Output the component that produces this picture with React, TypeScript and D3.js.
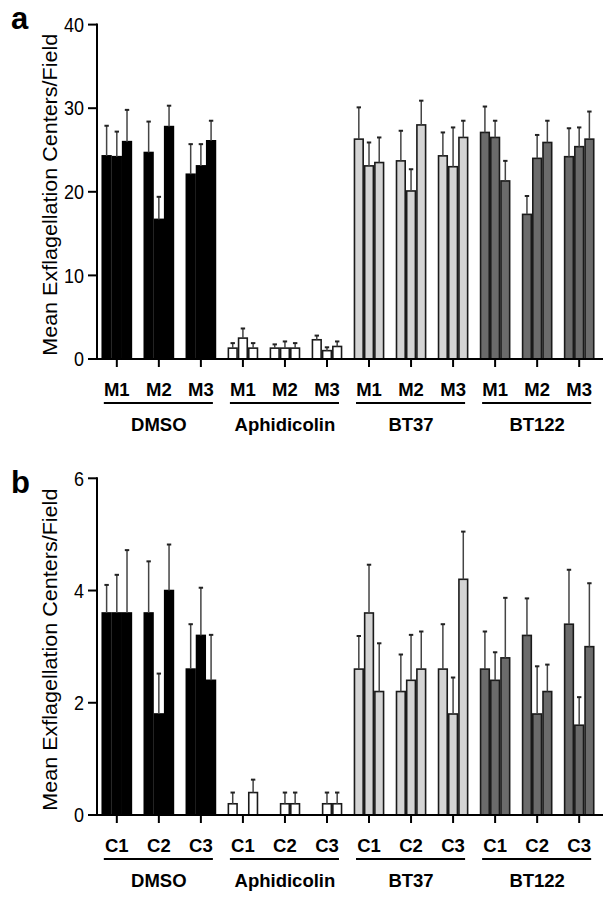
import React from "react";
import * as d3 from "d3";

const groups = ["DMSO", "Aphidicolin", "BT37", "BT122"];
const subA = ["M1", "M2", "M3"];
const subB = ["C1", "C2", "C3"];
const yTicksA = [0, 10, 20, 30, 40];
const yTicksB = [0, 2, 4, 6];
const fills = ["#000000", "#ffffff", "#d4d4d4", "#6b6b6b"];
const yTitle = "Mean Exflagellation Centers/Field";

// panel a: means per (group, sub) cluster, 3 replicates each
const meansA = [
  [24.3, 24.2, 26.0], [24.7, 16.7, 27.8], [22.1, 23.1, 26.1],
  [1.3, 2.5, 1.3], [1.3, 1.3, 1.3], [2.3, 1.0, 1.5],
  [26.3, 23.1, 23.5], [23.7, 20.1, 28.0], [24.3, 23.0, 26.5],
  [27.1, 26.5, 21.3], [17.3, 24.0, 25.9], [24.2, 25.4, 26.3],
];
const sdA = [
  [3.6, 3.0, 3.8], [3.7, 2.7, 2.5], [3.6, 2.6, 2.4],
  [0.6, 1.15, 0.6], [0.45, 0.8, 0.6], [0.5, 0.4, 0.6],
  [3.8, 2.8, 3.0], [3.6, 2.6, 2.9], [2.8, 4.7, 2.0],
  [3.1, 2.0, 2.4], [2.2, 2.8, 2.6], [3.4, 2.3, 3.3],
];
// panel b
const meansB = [
  [3.6, 3.6, 3.6], [3.6, 1.8, 4.0], [2.6, 3.2, 2.4],
  [0.2, 0, 0.4], [0, 0.2, 0.2], [0, 0.2, 0.2],
  [2.6, 3.6, 2.2], [2.2, 2.4, 2.6], [2.6, 1.8, 4.2],
  [2.6, 2.4, 2.8], [3.2, 1.8, 2.2], [3.4, 1.6, 3.0],
];
const sdB = [
  [0.5, 0.68, 1.12], [0.92, 0.72, 0.82], [0.8, 0.85, 0.81],
  [0.2, 0, 0.23], [0, 0.2, 0.2], [0, 0.2, 0.2],
  [0.59, 0.86, 0.86], [0.66, 0.81, 0.67], [0.8, 0.65, 0.85],
  [0.67, 0.5, 1.07], [0.66, 0.85, 0.48], [0.97, 0.5, 1.13],
];

const FONT = "'Liberation Sans', Arial, Helvetica, sans-serif";

type PanelProps = {
  letter: string;
  letterY: number;
  top: number;
  bottom: number;
  yMax: number;
  yTicks: number[];
  subs: string[];
  means: number[][];
  sds: number[][];
};

function Panel({ letter, letterY, top, bottom, yMax, yTicks, subs, means, sds }: PanelProps) {
  const axisX = 97;
  const axisRight = 603;
  const clusters = groups.flatMap((g) => subs.map((s) => g + "|" + s));
  const x = d3.scaleBand<string>().domain(clusters).range([95.8, 600.2]).paddingInner(0.272).paddingOuter(0.136);
  const inner = d3.scaleBand<string>().domain(["0", "1", "2"]).range([0, x.bandwidth()]).padding(0);
  const y = d3.scaleLinear().domain([0, yMax]).range([bottom, top]);
  const labelY = bottom + 31;
  const lineY = bottom + 44;
  const groupY = bottom + 66;

  return (
    <g fontFamily={FONT}>
      <text x={11} y={letterY} fontSize={31} fontWeight="bold">{letter}</text>
      <text
        transform={`translate(56.5,${(top + bottom) / 2 + 3}) rotate(-90)`}
        textAnchor="middle"
        fontSize={19.5}
        textLength={322}
        lengthAdjust="spacingAndGlyphs"
      >
        {yTitle}
      </text>
      {yTicks.map((t) => (
        <g key={t}>
          <line x1={88} x2={axisX} y1={y(t)} y2={y(t)} stroke="#000" strokeWidth={2} />
          <text
            transform={`translate(84,${y(t)}) scale(1,1.12)`}
            dy="0.36em"
            textAnchor="end"
            fontSize={18}
          >
            {t}
          </text>
        </g>
      ))}
      {clusters.map((c, ci) => {
        const gi = Math.floor(ci / 3);
        return means[ci].map((m, bi) => {
          const bx = (x(c) as number) + (inner(String(bi)) as number);
          const bw = inner.bandwidth();
          const yt = y(m);
          const sd = sds[ci][bi];
          const cx = bx + bw / 2;
          const dark = gi === 0;
          return (
            <g key={c + bi}>
              {m > 0 && (
                <rect
                  x={bx + 0.75}
                  y={yt}
                  width={bw - 1.5}
                  height={bottom - yt}
                  fill={fills[gi]}
                  stroke={dark ? "#000" : "#1a1a1a"}
                  strokeWidth={1.6}
                />
              )}
              {sd > 0 && (
                <g>
                  <line x1={cx} x2={cx} y1={yt} y2={y(m + sd)} stroke="#444" strokeWidth={1.5} />
                  <line x1={cx - 2.2} x2={cx + 2.2} y1={y(m + sd)} y2={y(m + sd)} stroke="#222" strokeWidth={2} />
                </g>
              )}
            </g>
          );
        });
      })}
      <line x1={axisX} x2={axisX} y1={top - 1} y2={bottom + 1} stroke="#000" strokeWidth={2} />
      <line x1={axisX - 1} x2={axisRight} y1={bottom} y2={bottom} stroke="#000" strokeWidth={2} />
      {clusters.map((c, ci) => {
        const cx = (x(c) as number) + x.bandwidth() / 2;
        return (
          <g key={"t" + c}>
            <line x1={cx} x2={cx} y1={bottom} y2={bottom + 8} stroke="#000" strokeWidth={2} />
            <text x={cx} y={labelY} dy="0.35em" textAnchor="middle" fontSize={18.5} fontWeight="bold">
              {subs[ci % 3]}
            </text>
          </g>
        );
      })}
      {groups.map((g) => {
        const c1 = (x(g + "|" + subs[0]) as number) + x.bandwidth() / 2;
        const c3 = (x(g + "|" + subs[2]) as number) + x.bandwidth() / 2;
        return (
          <g key={"g" + g}>
            <line x1={c1 - 13} x2={c3 + 12} y1={lineY} y2={lineY} stroke="#000" strokeWidth={2} />
            <text x={(c1 + c3) / 2} y={groupY} dy="0.35em" textAnchor="middle" fontSize={18.5} fontWeight="bold">
              {g}
            </text>
          </g>
        );
      })}
    </g>
  );
}

export default function App() {
  return (
    <svg width={613} height={900} style={{ position: "absolute", left: 0, top: 0, background: "#fff" }}>
      <rect width={613} height={900} fill="#fff" />
      <Panel letter="a" letterY={28.5} top={24.6} bottom={359} yMax={40} yTicks={yTicksA} subs={subA} means={meansA} sds={sdA} />
      <Panel letter="b" letterY={493} top={478.3} bottom={815} yMax={6} yTicks={yTicksB} subs={subB} means={meansB} sds={sdB} />
    </svg>
  );
}
